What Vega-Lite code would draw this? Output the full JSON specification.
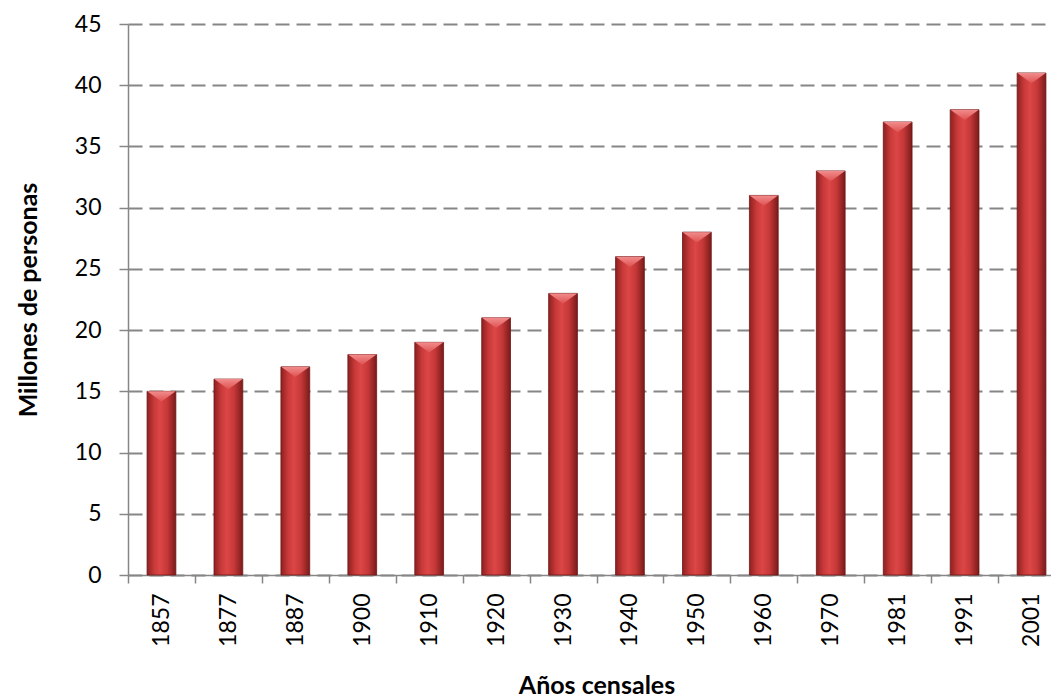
{
  "$schema": "https://vega.github.io/schema/vega-lite/v6.json",
  "width": 923,
  "height": 551,
  "autosize": {"type": "none"},
  "padding": {"left": 128, "top": 24, "right": 0, "bottom": 125},
  "background": "white",
  "config": {
    "view": {"stroke": null},
    "font": "Lato",
    "axis": {"labelFont": "Lato", "titleFont": "Lato"}
  },
  "data": {
    "values": [
      {"anio": "1857", "millones": 15},
      {"anio": "1877", "millones": 16},
      {"anio": "1887", "millones": 17},
      {"anio": "1900", "millones": 18},
      {"anio": "1910", "millones": 19},
      {"anio": "1920", "millones": 21},
      {"anio": "1930", "millones": 23},
      {"anio": "1940", "millones": 26},
      {"anio": "1950", "millones": 28},
      {"anio": "1960", "millones": 31},
      {"anio": "1970", "millones": 33},
      {"anio": "1981", "millones": 37},
      {"anio": "1991", "millones": 38},
      {"anio": "2001", "millones": 41}
    ]
  },
  "encoding": {
    "x": {
      "field": "anio",
      "type": "ordinal",
      "sort": null,
      "scale": {"range": [0, 937], "paddingInner": 0, "paddingOuter": 0},
      "axis": {
        "title": "Años censales",
        "titleFontSize": 25,
        "titleFontWeight": "bold",
        "titleColor": "#000000",
        "titleY": 118,
        "titleBaseline": "alphabetic",
        "labelAngle": -90,
        "labelFontSize": 23,
        "labelColor": "#000000",
        "labelPadding": 10,
        "labelAlign": "right",
        "labelBaseline": "middle",
        "tickBand": "extent",
        "tickSize": 8,
        "tickColor": "#868686",
        "tickWidth": 1.5,
        "domainColor": "#868686",
        "domainWidth": 1.5,
        "grid": false
      }
    },
    "y": {
      "field": "millones",
      "type": "quantitative",
      "scale": {"domain": [0, 45], "nice": false},
      "axis": {
        "title": "Millones de personas",
        "titleFontSize": 25,
        "titleFontWeight": "bold",
        "titleColor": "#000000",
        "titleX": -92,
        "titleBaseline": "alphabetic",
        "values": [0, 5, 10, 15, 20, 25, 30, 35, 40, 45],
        "labelFontSize": 23,
        "labelColor": "#000000",
        "labelPadding": 18,
        "tickSize": 9,
        "tickColor": "#868686",
        "tickWidth": 1.5,
        "domainColor": "#868686",
        "domainWidth": 1.5,
        "grid": true,
        "gridColor": "#868686",
        "gridWidth": 1.8,
        "gridDash": [14, 7]
      }
    }
  },
  "layer": [
    {
      "mark": {
        "type": "bar",
        "width": {"band": 0.43},
        "stroke": "#6e1818",
        "strokeWidth": 0.8,
        "color": {
          "gradient": "linear",
          "x1": 0, "x2": 1, "y1": 0, "y2": 0,
          "stops": [
            {"offset": 0, "color": "#8e2020"},
            {"offset": 0.25, "color": "#c93a3a"},
            {"offset": 0.45, "color": "#dc4646"},
            {"offset": 0.7, "color": "#c63838"},
            {"offset": 1, "color": "#7a1a1a"}
          ]
        }
      }
    },
    {
      "mark": {
        "type": "point",
        "shape": "M -1 0 L 1 0 L 0 0.72 Z",
        "size": 810,
        "filled": true,
        "opacity": 1,
        "strokeWidth": 0,
        "color": {
          "gradient": "linear",
          "x1": 0, "x2": 0, "y1": 0, "y2": 1,
          "stops": [
            {"offset": 0, "color": "#f28c8c"},
            {"offset": 1, "color": "#de5252"}
          ]
        }
      }
    }
  ]
}
